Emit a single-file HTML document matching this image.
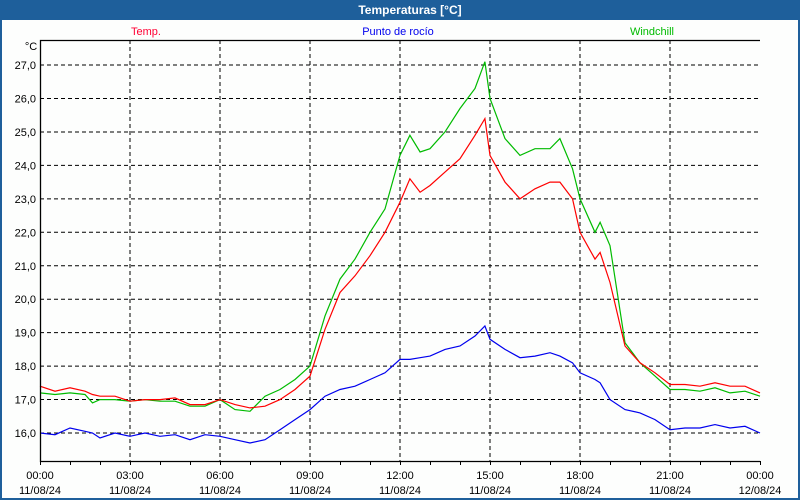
<!DOCTYPE html>
<html><head><meta charset="utf-8"><style>
html,body{margin:0;padding:0;background:#fff}
svg{display:block;font-family:"Liberation Sans",sans-serif}
</style></head><body>
<svg id="c" width="800" height="500">
<rect x="0" y="0" width="800" height="500" fill="#1e5f9b"/>
<rect x="2" y="20" width="796" height="478" fill="#fdfefd"/>
<text x="410" y="14" fill="#fff" font-size="12" font-weight="bold" text-anchor="middle">Temperaturas [°C]</text>
<text x="146" y="35" fill="#ff0033" font-size="11" text-anchor="middle">Temp.</text>
<text x="398" y="35" fill="#0000ee" font-size="11" text-anchor="middle">Punto de rocío</text>
<text x="652" y="35" fill="#00bb00" font-size="11" text-anchor="middle">Windchill</text>
<text x="31" y="50" fill="#000" font-size="11" text-anchor="middle">°C</text>
<g id="grid"></g><g id="series"></g><g id="axes"></g>
</svg>
<script>
const times=[0,0.5,1,1.5,1.75,2,2.5,3,3.5,4,4.5,5,5.5,6,6.5,7,7.5,8,8.5,9,9.5,10,10.5,11,11.5,12,12.33,12.67,13,13.5,14,14.5,14.83,15,15.5,16,16.5,17,17.33,17.75,18,18.5,18.67,19,19.5,20,20.5,21,21.5,22,22.5,23,23.5,24];
const tempVals=[17.4,17.25,17.35,17.25,17.15,17.1,17.1,16.95,17.0,17.0,17.05,16.85,16.85,17.0,16.85,16.75,16.8,17.0,17.3,17.7,19.1,20.2,20.7,21.3,22.0,22.9,23.6,23.2,23.4,23.8,24.2,24.9,25.4,24.3,23.5,23.0,23.3,23.5,23.5,23.0,22.0,21.2,21.4,20.5,18.6,18.1,17.8,17.45,17.45,17.4,17.5,17.4,17.4,17.2];
const windVals=[17.2,17.15,17.2,17.15,16.9,17.0,17.0,16.95,17.0,16.95,16.95,16.8,16.8,17.0,16.7,16.65,17.1,17.3,17.6,18.0,19.5,20.6,21.2,22.0,22.7,24.3,24.9,24.4,24.5,25.0,25.7,26.3,27.1,26.0,24.8,24.3,24.5,24.5,24.8,23.9,23.0,22.0,22.3,21.6,18.7,18.1,17.7,17.3,17.3,17.25,17.35,17.2,17.25,17.1];
const dewVals=[16.0,15.95,16.15,16.05,16.0,15.85,16.0,15.9,16.0,15.9,15.95,15.8,15.95,15.9,15.8,15.7,15.8,16.1,16.4,16.7,17.1,17.3,17.4,17.6,17.8,18.2,18.2,18.25,18.3,18.5,18.6,18.9,19.2,18.8,18.5,18.25,18.3,18.4,18.3,18.1,17.8,17.6,17.5,17.0,16.7,16.6,16.4,16.1,16.15,16.15,16.25,16.15,16.2,16.0];
const yTicks=[16,17,18,19,20,21,22,23,24,25,26,27];
const xTickHours=[0,3,6,9,12,15,18,21,24];
const xTickLabels=["00:00","03:00","06:00","09:00","12:00","15:00","18:00","21:00","00:00"];
const xDateLabels=["11/08/24","11/08/24","11/08/24","11/08/24","11/08/24","11/08/24","11/08/24","11/08/24","12/08/24"];
const L=40,R=760,T=40,B=461;
const xs=h=>L+h*(R-L)/24;
const ys=v=>433-(v-16)*33.45;
const NS="http://www.w3.org/2000/svg";
function mk(tag,attrs,parent){const e=document.createElementNS(NS,tag);for(const k in attrs)e.setAttribute(k,attrs[k]);parent.appendChild(e);return e;}
const grid=document.getElementById('grid'),axes=document.getElementById('axes'),ser=document.getElementById('series');
yTicks.forEach(v=>{
 const l=mk('line',{x1:L,x2:R,y1:ys(v),y2:ys(v),stroke:'#000','stroke-dasharray':'4,3','stroke-width':1},grid);
 
 
 const t=mk('text',{x:36,y:ys(v)+4,'font-size':11,'text-anchor':'end',fill:'#000'},axes);
 t.textContent=v.toFixed(1).replace('.',',');
 
 
});
xTickHours.forEach((h,i)=>{
 if(h>0&&h<24){const l=mk('line',{x1:xs(h),x2:xs(h),y1:T,y2:B,stroke:'#000','stroke-dasharray':'4,3','stroke-width':1},grid);
 
 }
 const t=mk('text',{x:xs(h),y:479,'font-size':11,'text-anchor':'middle',fill:'#000'},axes);
 t.textContent=xTickLabels[i];
 
 
 const d=mk('text',{x:xs(h),y:494,'font-size':11,'text-anchor':'middle',fill:'#000'},axes);
 d.textContent=xDateLabels[i];
 
 
});
for(let h=0;h<=24;h++){const l=mk('line',{x1:xs(h)+0.5,x2:xs(h)+0.5,y1:B,y2:B+4,stroke:'#000'},axes);
 
 }
const f=mk('polyline',{points:`${R},${T+0.5} ${L+0.5},${T+0.5} ${L+0.5},${B+0.5} ${R},${B+0.5}`,fill:'none',stroke:'#000','stroke-width':1.3},axes);


function line(vals,col,name){
 const p=mk('polyline',{points:vals.map((v,i)=>xs(times[i]).toFixed(1)+','+ys(v).toFixed(1)).join(' '),fill:'none',stroke:col,'stroke-width':1.2},ser);
 
 
}
line(dewVals,'#0000ee','dew-point-line');
line(windVals,'#00bb00','windchill-line');
line(tempVals,'#ff0000','temp-line');
</script>
</body></html>
